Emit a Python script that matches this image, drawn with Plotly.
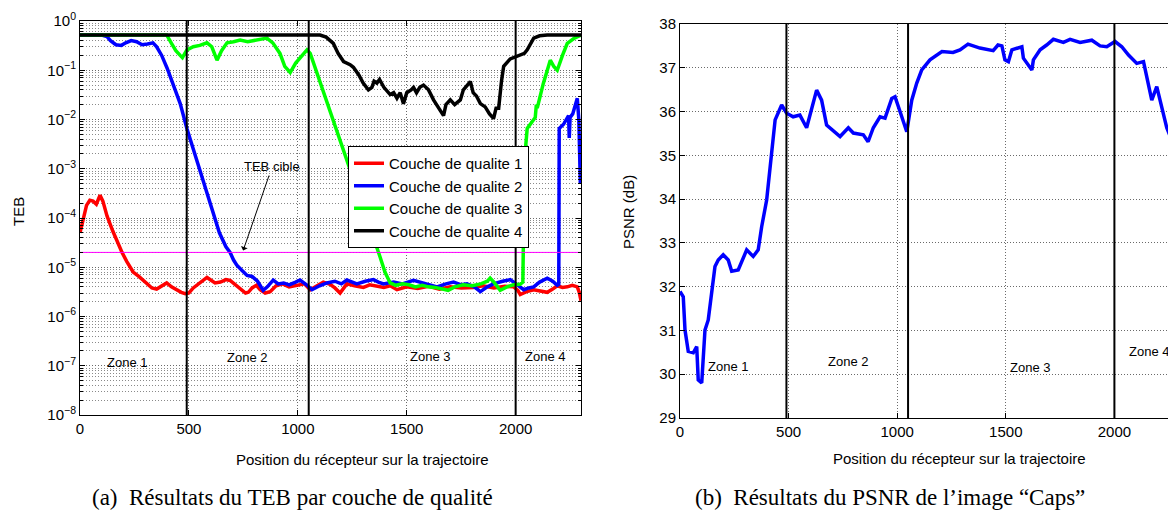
import plotly.graph_objects as go

# ---------------- data: left panel (TEB per quality layer) ----------------
red_x = [0, 15, 30, 45, 60, 75, 92, 105, 124, 150, 175, 193, 215, 244, 270, 300, 330, 352, 375, 398,
         420, 445, 465, 483, 500, 520, 545, 565, 583, 600, 620, 645, 670, 689, 710, 740, 760, 773, 790,
         810, 827, 850, 873, 900, 930, 960, 1000, 1030, 1057, 1085, 1117, 1148, 1170, 1194, 1225, 1260,
         1301, 1330, 1363, 1395, 1424, 1455, 1500, 1550, 1600, 1650, 1700, 1750, 1806, 1850, 1900, 1950,
         1991, 2010, 2021, 2050, 2083, 2110, 2145, 2170, 2191, 2215, 2237, 2260, 2283, 2292, 2300]
red_y = [5.0e-5, 9e-5, 1.8e-4, 2.3e-4, 2.2e-4, 1.9e-4, 2.9e-4, 2.2e-4, 1.1e-4, 5.5e-5, 3.0e-5, 2.0e-5,
         1.3e-5, 8.0e-6, 6.5e-6, 5.0e-6, 3.8e-6, 3.6e-6, 4.2e-6, 4.8e-6, 4.0e-6, 3.4e-6, 3.1e-6, 2.9e-6,
         3.0e-6, 3.8e-6, 4.6e-6, 5.2e-6, 6.2e-6, 5.5e-6, 4.8e-6, 5.0e-6, 5.6e-6, 5.4e-6, 4.5e-6, 3.6e-6,
         3.0e-6, 3.1e-6, 3.8e-6, 4.3e-6, 3.5e-6, 3.0e-6, 3.2e-6, 4.2e-6, 4.6e-6, 4.0e-6, 4.3e-6, 4.6e-6,
         3.5e-6, 4.2e-6, 5.0e-6, 4.5e-6, 3.8e-6, 3.0e-6, 4.6e-6, 4.2e-6, 3.9e-6, 4.4e-6, 4.2e-6, 3.9e-6,
         4.2e-6, 3.5e-6, 4.0e-6, 3.7e-6, 4.1e-6, 3.6e-6, 4.0e-6, 3.8e-6, 3.9e-6, 4.2e-6, 3.8e-6, 4.1e-6,
         4.0e-6, 3.4e-6, 2.8e-6, 3.2e-6, 3.5e-6, 3.3e-6, 3.1e-6, 3.6e-6, 4.2e-6, 3.9e-6, 4.0e-6, 4.3e-6,
         4.0e-6, 3.1e-6, 2.1e-6]

blue_x = [0, 60, 100, 124, 140, 165, 190, 210, 235, 260, 285, 310, 335, 352, 375, 400, 430, 460, 491,
          520, 560, 600, 640, 670, 689, 705, 720, 745, 767, 790, 815, 841, 860, 887, 910, 935, 960, 990,
          1010, 1040, 1065, 1100, 1133, 1170, 1200, 1225, 1250, 1271, 1310, 1347, 1370, 1393, 1440, 1480,
          1531, 1580, 1639, 1680, 1715, 1750, 1776, 1810, 1838, 1870, 1898, 1940, 1975, 2005, 2037, 2060,
          2083, 2110, 2145, 2170, 2191, 2198, 2200, 2220, 2238, 2243, 2246, 2250, 2262, 2283, 2290, 2297]
blue_y = [0.52, 0.52, 0.52, 0.48, 0.40, 0.33, 0.32, 0.36, 0.40, 0.38, 0.33, 0.34, 0.36, 0.30, 0.20, 0.11,
          0.048, 0.021, 6.5e-3, 2.5e-3, 6.5e-4, 1.7e-4, 5.0e-5, 2.6e-5, 2.0e-5, 1.4e-5, 1.1e-5, 8.5e-6,
          6.8e-6, 6.5e-6, 5.2e-6, 3.4e-6, 4.0e-6, 5.5e-6, 4.6e-6, 4.8e-6, 4.4e-6, 5.0e-6, 5.5e-6, 4.4e-6,
          3.5e-6, 4.2e-6, 4.8e-6, 5.2e-6, 4.6e-6, 5.5e-6, 5.0e-6, 4.6e-6, 5.2e-6, 5.6e-6, 5.0e-6, 4.6e-6,
          5.0e-6, 4.6e-6, 5.4e-6, 4.8e-6, 4.0e-6, 4.6e-6, 5.0e-6, 4.4e-6, 4.6e-6, 4.0e-6, 3.2e-6, 4.0e-6,
          4.6e-6, 5.2e-6, 5.6e-6, 4.5e-6, 3.5e-6, 3.8e-6, 4.0e-6, 5.0e-6, 6.0e-6, 5.2e-6, 4.3e-6, 4.5e-6,
          6.6e-3, 8.0e-3, 1.1e-2, 1.2e-2, 4.2e-3, 1.1e-2, 1.3e-2, 2.7e-2, 1.0e-2, 5.0e-4]

green_x = [0, 398, 420, 440, 460, 470, 491, 520, 550, 583, 605, 629, 650, 675, 705, 735, 770, 800, 830,
           858, 885, 918, 940, 965, 990, 1020, 1042, 1057, 1100, 1150, 1200, 1250, 1300, 1350, 1378, 1400,
           1424, 1450, 1480, 1510, 1540, 1570, 1600, 1630, 1660, 1690, 1720, 1760, 1800, 1840, 1870, 1883,
           1900, 1929, 1960, 1990, 2020, 2030, 2033, 2038, 2045, 2053, 2075, 2090, 2095, 2099, 2127, 2159,
           2175, 2191, 2215, 2237, 2270, 2300]
green_y = [0.52, 0.52, 0.35, 0.25, 0.20, 0.18, 0.26, 0.30, 0.32, 0.36, 0.30, 0.16, 0.25, 0.36, 0.38, 0.41,
           0.38, 0.40, 0.42, 0.45, 0.36, 0.22, 0.12, 0.09, 0.14, 0.20, 0.26, 0.22, 0.062, 0.014, 3.1e-3,
           7.2e-4, 1.6e-4, 3.7e-5, 1.6e-5, 8.0e-6, 4.8e-6, 4.3e-6, 4.6e-6, 4.4e-6, 4.0e-6, 4.3e-6, 4.0e-6,
           3.9e-6, 3.6e-6, 3.4e-6, 4.0e-6, 4.4e-6, 4.2e-6, 4.6e-6, 5.2e-6, 6.0e-6, 5.0e-6, 3.4e-6, 4.0e-6,
           4.4e-6, 4.5e-6, 4.8e-6, 5.0e-6, 2.0e-4, 2.5e-3, 6.6e-3, 9.0e-3, 1.1e-2, 2.0e-2, 1.7e-2, 5.4e-2,
           0.16, 0.12, 0.10, 0.20, 0.35, 0.45, 0.52]

black_x = [0, 1102, 1130, 1163, 1185, 1210, 1240, 1255, 1280, 1300, 1324, 1340, 1350, 1363, 1375, 1395,
           1424, 1440, 1455, 1470, 1485, 1500, 1520, 1531, 1545, 1560, 1577, 1600, 1623, 1645, 1669, 1680,
           1700, 1720, 1746, 1760, 1780, 1792, 1805, 1820, 1838, 1860, 1880, 1899, 1910, 1922, 1935, 1945,
           1975, 2000, 2021, 2040, 2053, 2070, 2083, 2110, 2145, 2300]
black_y = [0.52, 0.52, 0.47, 0.35, 0.22, 0.15, 0.13, 0.115, 0.08, 0.055, 0.04, 0.045, 0.06, 0.055, 0.065,
           0.045, 0.032, 0.035, 0.027, 0.035, 0.021, 0.035, 0.04, 0.045, 0.035, 0.045, 0.05, 0.04, 0.025,
           0.018, 0.012, 0.02, 0.025, 0.02, 0.025, 0.04, 0.05, 0.059, 0.035, 0.03, 0.021, 0.018, 0.013,
           0.0105, 0.017, 0.017, 0.06, 0.12, 0.17, 0.19, 0.20, 0.22, 0.26, 0.37, 0.45, 0.50, 0.52, 0.52]

target_teb = 2e-5
zone_bounds = [490, 1050, 2000]
series_names = ["Couche de qualite 1", "Couche de qualite 2", "Couche de qualite 3", "Couche de qualite 4"]
series_colors = ["#ff0000", "#0000ff", "#00ff00", "#000000"]

# ---------------- data: right panel (PSNR) ----------------
psnr_x = [0, 15, 23, 38, 61, 77, 84, 100, 115, 130, 161, 176, 199, 222, 238, 268, 307, 337, 360, 376,
          399, 422, 438, 468, 491, 521, 552, 583, 629, 652, 675, 737, 775, 798, 844, 866, 890, 921, 944,
          975, 990, 1013, 1044, 1067, 1090, 1113, 1151, 1206, 1257, 1289, 1326, 1381, 1442, 1464, 1482,
          1496, 1512, 1528, 1574, 1581, 1620, 1627, 1658, 1688, 1719, 1765, 1796, 1842, 1896, 1934, 1965,
          2003, 2034, 2065, 2088, 2103, 2134, 2149, 2172, 2195, 2218, 2241, 2264, 2283]
psnr_y = [31.89, 31.77, 31.01, 30.52, 30.49, 30.63, 29.87, 29.80, 31.01, 31.24, 32.46, 32.61, 32.73, 32.61,
          32.35, 32.38, 32.84, 32.69, 32.84, 33.37, 33.98, 35.12, 35.81, 36.15, 35.96, 35.88, 35.92, 35.63,
          36.49, 36.26, 35.69, 35.43, 35.63, 35.51, 35.47, 35.31, 35.63, 35.88, 35.85, 36.30, 36.34, 36.00,
          35.54, 36.26, 36.65, 36.95, 37.18, 37.37, 37.35, 37.41, 37.54, 37.45, 37.39, 37.52, 37.50, 37.18,
          37.14, 37.41, 37.48, 37.22, 36.95, 37.18, 37.41, 37.52, 37.65, 37.58, 37.65, 37.58, 37.63, 37.50,
          37.48, 37.60, 37.48, 37.29, 37.18, 37.10, 37.14, 36.76, 36.26, 36.57, 36.11, 35.63, 35.35, 35.05]

teb_tickvals = [1e-8, 1e-7, 1e-6, 1e-5, 1e-4, 1e-3, 1e-2, 1e-1, 1e0]
teb_ticktext = ["10<sup>−8</sup>", "10<sup>−7</sup>", "10<sup>−6</sup>", "10<sup>−5</sup>",
                "10<sup>−4</sup>", "10<sup>−3</sup>", "10<sup>−2</sup>", "10<sup>−1</sup>", "10<sup>0</sup>"]
x_ticks = [0, 500, 1000, 1500, 2000]
zone_labels = ["Zone 1", "Zone 2", "Zone 3", "Zone 4"]
zone_label_x_left = [216, 767, 1608, 2136]
zone_label_y_left = [-6.94, -6.84, -6.82, -6.82]   # log10 units
zone_label_x_right = [221, 773, 1611, 2160]
zone_label_y_right = [30.17, 30.28, 30.15, 30.53]

FONT = "Liberation Sans, Arial, sans-serif"
SERIF = "Liberation Serif, Times New Roman, serif"
OFF = 8                     # page body margin
W, H = 1176 - OFF, 511 - OFF


def px(x):
    return (x - OFF) / W


def py(y):
    return 1 - (y - OFF) / H


fig = go.Figure()

for xs, ys, name, col in zip([red_x, blue_x, green_x, black_x], [red_y, blue_y, green_y, black_y],
                             series_names, series_colors):
    fig.add_trace(go.Scatter(x=xs, y=ys, mode="lines", name=name,
                             line=dict(color=col, width=3.5), xaxis="x", yaxis="y"))

fig.add_trace(go.Scatter(x=[0, 2300], y=[target_teb, target_teb], mode="lines",
                         line=dict(color="#ff00ff", width=1), showlegend=False, xaxis="x", yaxis="y"))

fig.add_trace(go.Scatter(x=psnr_x, y=psnr_y, mode="lines", line=dict(color="#0000ff", width=3.5),
                         showlegend=False, xaxis="x2", yaxis="y2"))

shapes = []
for xb in zone_bounds:
    shapes.append(dict(type="line", xref="x", yref="y domain", x0=xb, x1=xb, y0=0, y1=1,
                       line=dict(color="black", width=2)))
    shapes.append(dict(type="line", xref="x2", yref="y2 domain", x0=xb, x1=xb, y0=0, y1=1,
                       line=dict(color="black", width=2)))

annotations = []
for t, xv, yv in zip(zone_labels, zone_label_x_left, zone_label_y_left):
    annotations.append(dict(text=t, x=xv, y=yv, xref="x", yref="y", showarrow=False,
                            font=dict(family=FONT, size=13, color="black")))
for t, xv, yv in zip(zone_labels, zone_label_x_right, zone_label_y_right):
    annotations.append(dict(text=t, x=xv, y=yv, xref="x2", yref="y2", showarrow=False,
                            font=dict(family=FONT, size=13, color="black")))

annotations.append(dict(text="TEB cible", x=749, y=-4.66, xref="x", yref="y", showarrow=True,
                        ax=29, ay=-84, arrowhead=1, arrowsize=1.2, arrowwidth=1, arrowcolor="black",
                        font=dict(family=FONT, size=13, color="black")))

# axis titles and captions
common = dict(xref="paper", yref="paper", showarrow=False, xanchor="center", yanchor="middle")
annotations += [
    dict(text="TEB", x=px(18), y=py(212), textangle=-90,
         font=dict(family=FONT, size=15, color="black"), **common),
    dict(text="PSNR (dB)", x=px(628), y=py(212), textangle=-90,
         font=dict(family=FONT, size=15, color="black"), **common),
    dict(text="Position du récepteur sur la trajectoire", x=px(362), y=py(459),
         font=dict(family=FONT, size=15, color="black"), **common),
    dict(text="Position du récepteur sur la trajectoire", x=px(959), y=py(458),
         font=dict(family=FONT, size=15, color="black"), **common),
    dict(text="(a)  Résultats du TEB par couche de qualité", x=px(292), y=py(497),
         font=dict(family=SERIF, size=23, color="black"), **common),
    dict(text="(b)  Résultats du PSNR de l’image “Caps”", x=px(890), y=py(497),
         font=dict(family=SERIF, size=23, color="black"), **common),
]

grid_common = dict(showgrid=True, griddash="1px,2px", gridcolor="#6a6a6a", gridwidth=1, zeroline=False,
                   showline=True, linecolor="black", linewidth=1, ticks="inside", ticklen=5,
                   tickcolor="black", tickfont=dict(family=FONT, size=15, color="black"),
                   automargin=False)

fig.update_layout(
    template="none",
    width=W, height=H, margin=dict(l=0, r=0, t=0, b=0, pad=0), autosize=False,
    paper_bgcolor="white", plot_bgcolor="white",
    font=dict(family=FONT, color="black"),
    shapes=shapes, annotations=annotations,
    legend=dict(x=px(348), y=py(146), xanchor="left", yanchor="top",
                bgcolor="white", bordercolor="black", borderwidth=1,
                font=dict(family=FONT, size=15, color="black"), tracegroupgap=0),
    xaxis=dict(domain=[px(80), px(581)], range=[0, 2300], tickvals=x_ticks, anchor="y",
               mirror="allticks", **grid_common),
    yaxis=dict(domain=[py(415), py(21)], type="log", range=[-8, 0], anchor="x",
               tickvals=teb_tickvals, ticktext=teb_ticktext, mirror="allticks",
               minor=dict(dtick="D1", showgrid=True, griddash="1px,2px", gridcolor="#8a8a8a",
                          ticks="inside", ticklen=3, tickcolor="black"),
               **grid_common),
    xaxis2=dict(domain=[px(680), 1.0], range=[0, 2283.6], tickvals=x_ticks, anchor="y2",
                mirror=True, **grid_common),
    yaxis2=dict(domain=[py(418), py(24)], range=[29, 38], dtick=1, anchor="x2",
                mirror=False, **grid_common),
)

fig.write_html("out.html")
